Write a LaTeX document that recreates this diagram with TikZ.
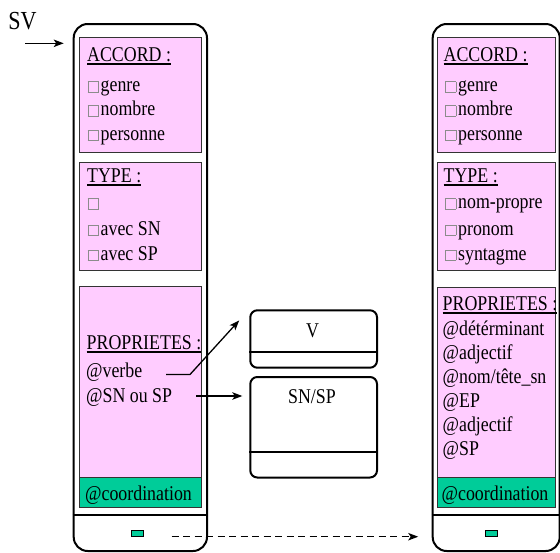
\documentclass[tikz,border=0pt]{standalone}
\usepackage{fontspec}
\setmainfont{Liberation Serif}[FakeStretch=0.85]
\usetikzlibrary{arrows.meta,calc}
\definecolor{pinkf}{HTML}{FFCCFF}
\definecolor{greenf}{HTML}{00CC99}
\newcommand\hdr[1]{\setbox0\hbox{#1}\rlap{\rule[-3.5pt]{\wd0}{1.3pt}}\box0}
\newcommand\cbx{\textcolor{black!45}{\fboxsep=0pt\fboxrule=0.7pt\fbox{\rule{0pt}{9.6pt}\hspace{9.6pt}}}\hspace{2pt}}
\begin{document}
\begin{tikzpicture}[x=1pt,y=-1pt,
  panel/.style={draw,line width=2pt,rounded corners=14pt,inner sep=0pt,anchor=north west},
  slot/.style={draw=black!80,line width=1.2pt,fill=pinkf,inner sep=0pt,anchor=north west},
  gslot/.style={slot,fill=greenf},
  mini/.style={draw,line width=1pt,fill=greenf,inner sep=0pt,anchor=north west,minimum width=11.7pt,minimum height=6.3pt},
  subbox/.style={draw,line width=2pt,rounded corners=7pt,inner sep=0pt,anchor=north west,minimum width=126.7pt},
  txt/.style={inner sep=0pt,anchor=base west,font=\fontsize{21}{25}\selectfont},
  arr/.style={line width=1.3pt,-{Stealth[length=10pt,width=7.5pt,inset=2.5pt]}},
  divider/.style={line width=2pt}]
\useasboundingbox (0,0) rectangle (560,552);

% ---------- left panel ----------
\node[panel,minimum width=133.3pt,minimum height=527pt] (L) at (72.7,23) {};
\node[slot,minimum width=122.3pt,minimum height=115.3pt] (LA) at (78.7,36.7) {};
\node[slot,minimum width=122.3pt,minimum height=108.3pt] (LT) at (78.7,161.7) {};
\node[slot,minimum width=122.3pt,minimum height=191pt] (LP) at (78.7,286) {};
\node[gslot,minimum width=122.3pt,minimum height=30pt] (LC) at (78.7,477) {};
\coordinate (Ldv) at (0,514.5);
\draw[divider] (L.west |- Ldv) -- (L.east |- Ldv);
\node[mini] (Lm) at (131,530) {};

\node[txt] (LAh) at (87,61) {\hdr{ACCORD :}};
\node[txt] (LA1) at (87.5,91.5) {\cbx genre};
\node[txt] (LA2) at (87.5,115.5) {\cbx nombre};
\node[txt] (LA3) at (87.5,140) {\cbx personne};
\node[txt] (LTh) at (87,182) {\hdr{TYPE :}};
\node[txt] (LT1) at (87.5,208.5) {\cbx};
\node[txt] (LT2) at (87.5,235) {\cbx avec SN};
\node[txt] (LT3) at (87.5,260) {\cbx avec SP};
\node[txt] (LPh) at (86.5,349) {\hdr{PROPRIETES :}};
\node[txt] (LP1) at (86,377) {@verbe};
\node[txt] (LP2) at (86,402) {@SN ou SP};
\node[txt] (LCt) at (85,500) {@coordination};

% ---------- right panel ----------
\node[panel,minimum width=127pt,minimum height=527pt] (R) at (431.7,23) {};
\node[slot,minimum width=118.3pt,minimum height=115.3pt] (RA) at (436.7,36.7) {};
\node[slot,minimum width=118.3pt,minimum height=108.3pt] (RT) at (436.7,161.7) {};
\node[slot,minimum width=118.3pt,minimum height=190.3pt] (RP) at (436.7,286.7) {};
\node[gslot,minimum width=118.3pt,minimum height=30pt] (RC) at (436.7,477) {};
\coordinate (Rdv) at (0,514.5);
\draw[divider] (R.west |- Rdv) -- (R.east |- Rdv);
\node[mini] (Rm) at (485,529.7) {};

\node[txt] (RAh) at (443.5,61) {\hdr{ACCORD :}};
\node[txt] (RA1) at (445,91.5) {\cbx genre};
\node[txt] (RA2) at (445,115.5) {\cbx nombre};
\node[txt] (RA3) at (445,140) {\cbx personne};
\node[txt] (RTh) at (443.5,182) {\hdr{TYPE :}};
\node[txt] (RT1) at (445,208.5) {\cbx nom-propre};
\node[txt] (RT2) at (445,235) {\cbx pronom};
\node[txt] (RT3) at (445,260) {\cbx syntagme};
\node[txt] (RPh) at (442.5,310) {\hdr{PROPRIETES :}};
\node[txt] (RP1) at (442.5,335) {@détérminant};
\node[txt] (RP2) at (442.5,359) {@adjectif};
\node[txt] (RP3) at (442.5,383) {@nom/tête\_sn};
\node[txt] (RP4) at (442.5,407) {@EP};
\node[txt] (RP5) at (442.5,431) {@adjectif};
\node[txt] (RP6) at (442.5,455) {@SP};
\node[txt] (RCt) at (441.5,500) {@coordination};

% ---------- middle boxes ----------
\node[subbox,minimum height=57.4pt] (V) at (249.3,309.3) {};
\coordinate (Vdv) at (0,352);
\draw[divider] (V.west |- Vdv) -- (V.east |- Vdv);
\node[txt,anchor=base] (Vt) at (312.5,337) {V};

\node[subbox,minimum height=100.5pt] (S) at (249.3,376) {};
\coordinate (Sdv) at (0,451.7);
\draw[divider] (S.west |- Sdv) -- (S.east |- Sdv);
\node[txt,anchor=base] (St) at (312,403) {SN/SP};

% ---------- SV label ----------
\node[inner sep=0pt,font=\fontsize{26}{30}\selectfont] (SV) at (22.5,21.5) {SV};

% ---------- connectors ----------
\coordinate (svs) at (25,43.3);
\draw[arr,shorten >=9pt] (svs) -- (svs -| L.west);

\coordinate (vs) at (166,374.5);
\coordinate (vk) at (190,374.5);
\draw[arr,shorten >=15pt] (vs) -- (vk) -- (V.north west);

\coordinate (ss) at (196,396);
\draw[arr,shorten >=7pt] (ss) -- (ss -| S.west);

\coordinate (ds) at (171.7,536.7);
\draw[arr,dash pattern=on 7pt off 4.5pt,shorten >=13.5pt] (ds) -- (ds -| R.west);
\end{tikzpicture}
\end{document}
